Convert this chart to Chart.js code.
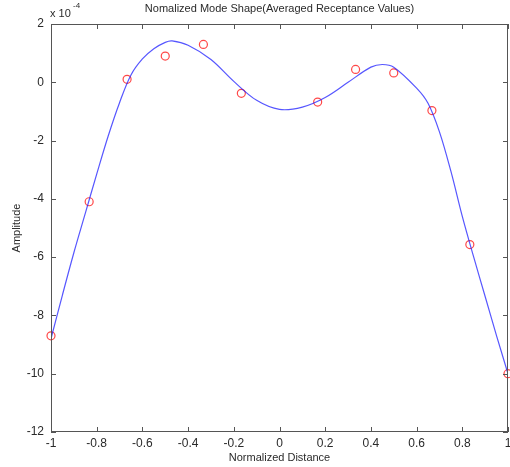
<!DOCTYPE html>
<html>
<head>
<meta charset="utf-8">
<script src="https://cdn.jsdelivr.net/npm/chart.js@4"></script>
<style>
  html, body { margin: 0; padding: 0; background: #fff; }
  canvas { display: block; }
</style>
</head>
<body>
<canvas id="mode-chart" width="510" height="467"></canvas>
<script>
// --- data (amplitude in units of 1e-4) ---
const sampleX = [-1, -0.833, -0.667, -0.5, -0.333, -0.167, 0.167, 0.333, 0.5, 0.667, 0.833, 1];
const sampleY = [-8.7, -4.1, 0.1, 0.9, 1.3, -0.38, -0.68, 0.44, 0.32, -0.97, -5.57, -10.0];

const fitX = [-1, -0.95, -0.9, -0.85, -0.8, -0.75, -0.7, -0.65, -0.6, -0.55, -0.5, -0.47, -0.4, -0.3, -0.2, -0.1,
              0, 0.1, 0.2, 0.3, 0.4, 0.45, 0.5, 0.6, 0.65, 0.7, 0.75, 0.8, 0.85, 0.9, 0.95, 1];
const fitY = [-8.8, -7.3, -5.85, -4.5, -3.15, -1.85, -0.7, 0.25, 0.8, 1.15, 1.37, 1.42, 1.27, 0.78, 0.03, -0.62,
              -0.93, -0.85, -0.52, 0.0, 0.52, 0.61, 0.52, -0.2, -0.72, -1.7, -3.05, -4.6, -6.0, -7.35, -8.7, -10.0];

const xTicks = [-1, -0.8, -0.6, -0.4, -0.2, 0, 0.2, 0.4, 0.6, 0.8, 1];
const yTicks = [2, 0, -2, -4, -6, -8, -10, -12];

const chartTitle = 'Nomalized Mode Shape(Averaged Receptance Values)';
const xLabel = 'Normalized Distance';
const yLabel = 'Amplitude';

const FONT = "'Liberation Sans', Arial, sans-serif";
const AXIS_COLOR = '#555';
const TEXT_COLOR = '#2a2a2a';

// 상자 테두리, 안쪽 눈금, 제목, 지수 표기
const matlabFrame = {
    id: 'matlabFrame',
    afterDraw(chart) {
        const { ctx, chartArea: { left, right, top, bottom }, scales: { x, y } } = chart;
        ctx.save();
        ctx.strokeStyle = AXIS_COLOR;
        ctx.lineWidth = 1;
        ctx.strokeRect(left + 0.5, top + 0.5, right - left - 1, bottom - top - 1);

        const tickLen = 5;
        ctx.beginPath();
        xTicks.forEach(v => {
            const px = Math.round(x.getPixelForValue(v)) + 0.5;
            ctx.moveTo(px, bottom); ctx.lineTo(px, bottom - tickLen);
            ctx.moveTo(px, top); ctx.lineTo(px, top + tickLen);
        });
        yTicks.forEach(v => {
            const py = Math.round(y.getPixelForValue(v)) + 0.5;
            ctx.moveTo(left, py); ctx.lineTo(left + tickLen, py);
            ctx.moveTo(right, py); ctx.lineTo(right - tickLen, py);
        });
        ctx.stroke();

        ctx.fillStyle = TEXT_COLOR;
        ctx.textBaseline = 'middle';
        ctx.textAlign = 'center';
        ctx.font = '11px ' + FONT;
        ctx.fillText(chartTitle, (left + right) / 2, 9);

        ctx.textAlign = 'left';
        ctx.fillText('x 10', left - 1, 14);
        ctx.font = '8px ' + FONT;
        ctx.fillText('-4', left + 22, 6);
        ctx.restore();
    }
};

new Chart(document.getElementById('mode-chart'), {
    type: 'scatter',
    data: {
        datasets: [
            {
                label: 'fit',
                data: fitX.map((v, i) => ({ x: v, y: fitY[i] })),
                showLine: true,
                borderColor: 'rgba(30,30,255,0.75)',
                borderWidth: 1.2,
                pointRadius: 0,
                tension: 0.35
            },
            {
                label: 'measured',
                data: sampleX.map((v, i) => ({ x: v, y: sampleY[i] })),
                showLine: false,
                pointStyle: 'circle',
                pointRadius: 4,
                borderColor: 'rgba(255,40,40,0.85)',
                borderWidth: 1.2,
                backgroundColor: 'rgba(0,0,0,0)',
                clip: false
            }
        ]
    },
    options: {
        responsive: false,
        devicePixelRatio: 1,
        animation: false,
        layout: { autoPadding: false, padding: { top: 24, right: 2, left: 0, bottom: 0 } },
        plugins: {
            legend: { display: false },
            tooltip: { enabled: false },
            title: { display: false }
        },
        scales: {
            x: {
                type: 'linear',
                min: -1,
                max: 1,
                grid: { display: false, drawTicks: false },
                border: { display: false },
                afterBuildTicks: scale => { scale.ticks = xTicks.map(v => ({ value: v })); },
                afterFit: scale => {
                    scale.height = 35;
                    scale.paddingLeft = 0;
                    scale.paddingRight = 0;
                },
                ticks: {
                    padding: 4,
                    maxRotation: 0,
                    color: TEXT_COLOR,
                    font: { family: FONT, size: 12 },
                    callback: v => String(Math.round(v * 10) / 10)
                },
                title: {
                    display: true,
                    text: xLabel,
                    color: TEXT_COLOR,
                    font: { family: FONT, size: 11 },
                    padding: { top: 0, bottom: 2 }
                }
            },
            y: {
                type: 'linear',
                min: -12,
                max: 2,
                grid: { display: false, drawTicks: false },
                border: { display: false },
                afterBuildTicks: scale => { scale.ticks = yTicks.map(v => ({ value: v })); },
                afterFit: scale => {
                    scale.width = 51;
                    scale.paddingTop = 0;
                    scale.paddingBottom = 0;
                },
                ticks: {
                    padding: 7,
                    color: TEXT_COLOR,
                    font: { family: FONT, size: 12 }
                },
                title: {
                    display: true,
                    text: yLabel,
                    color: TEXT_COLOR,
                    font: { family: FONT, size: 11 },
                    padding: { top: 10, bottom: 0 }
                }
            }
        }
    },
    plugins: [matlabFrame]
});
</script>
</body>
</html>
